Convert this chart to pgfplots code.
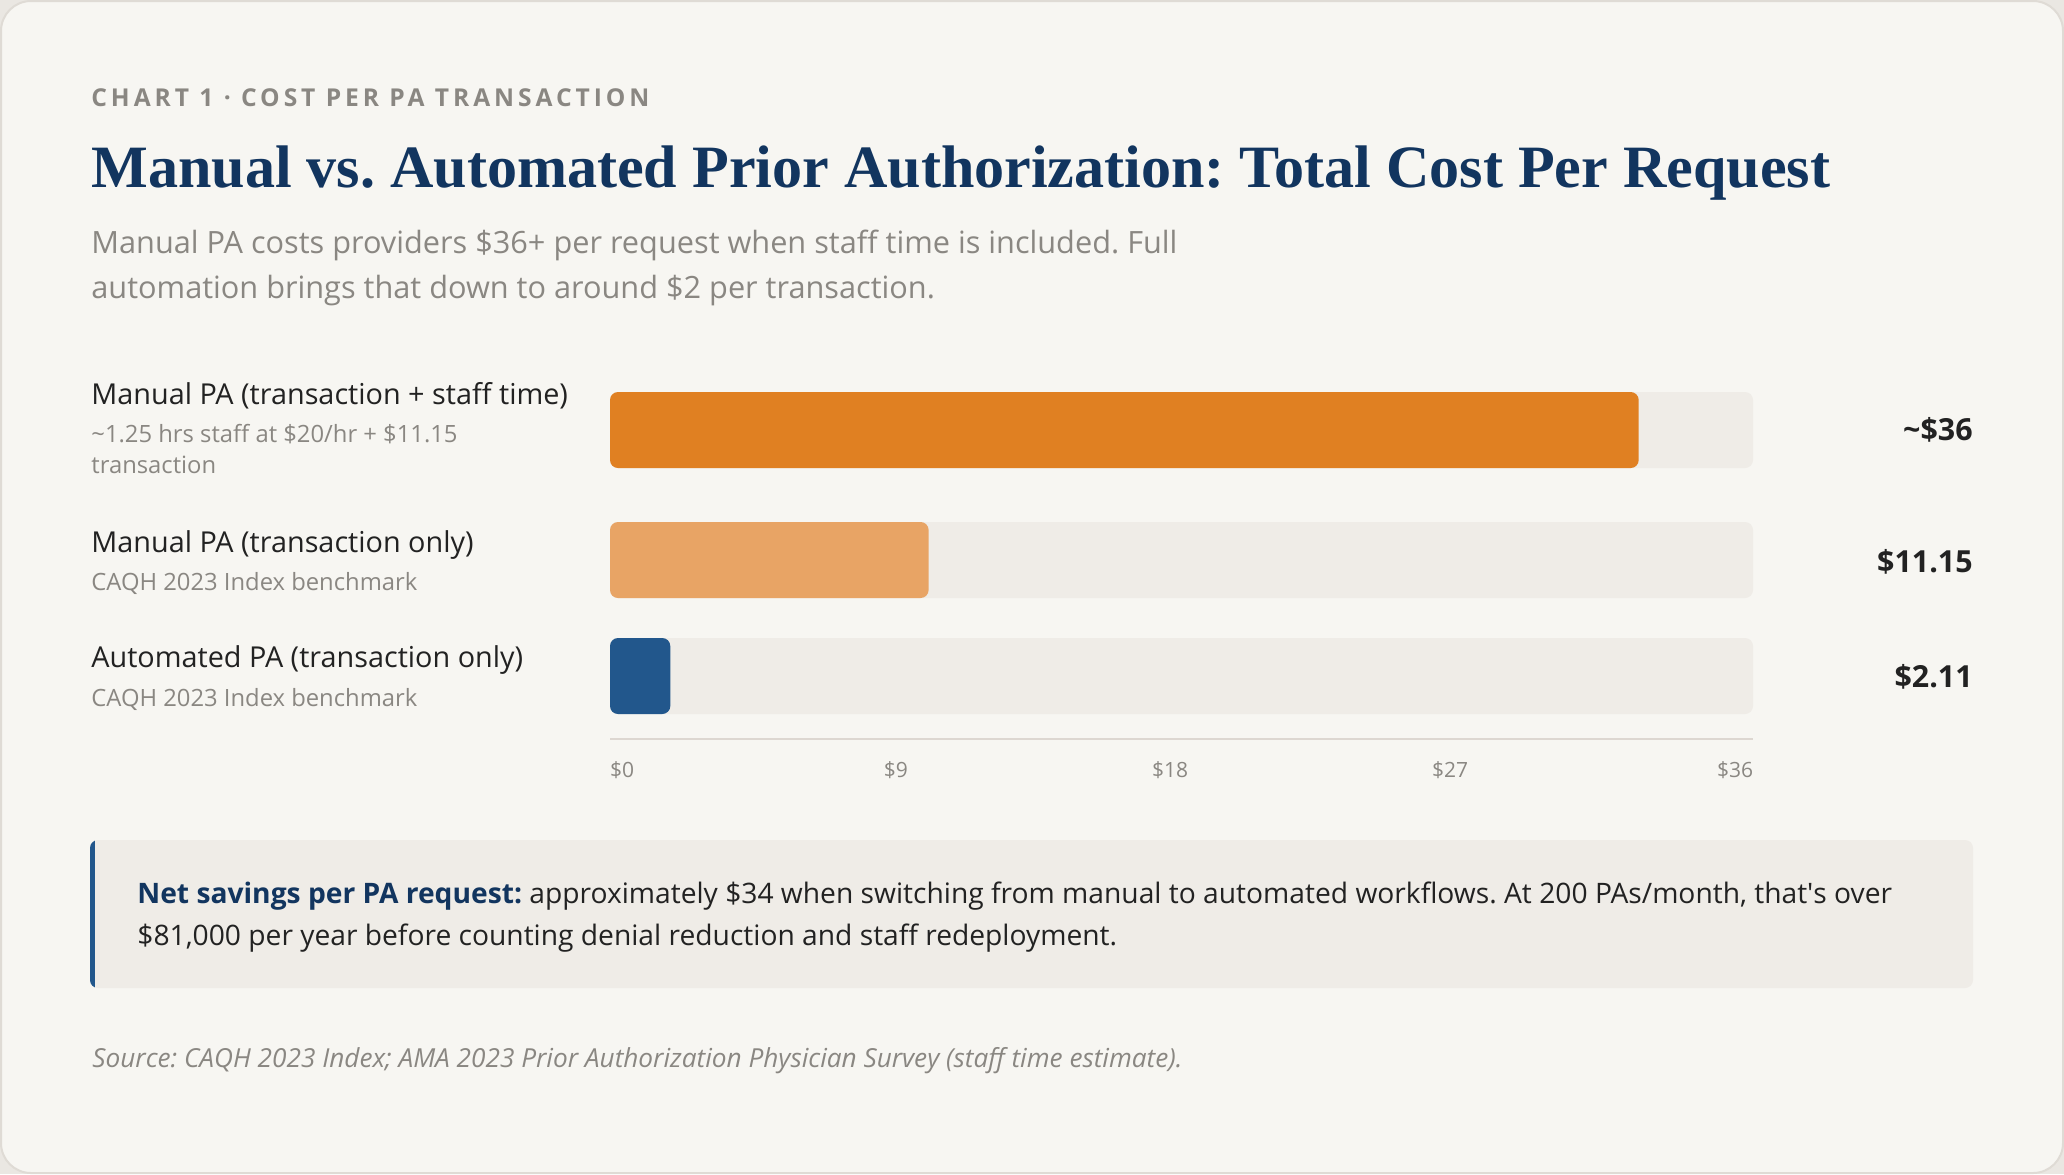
\documentclass[border=0pt]{standalone}
\usepackage{fontspec}
\usepackage{pgfplots}
\pgfplotsset{compat=1.18}
\setmainfont{Open Sans}
\newfontfamily\titlefont{Liberation Serif}
\newfontfamily\kickerfont[LetterSpace=16]{Open Sans}
\frenchspacing

\definecolor{outerbg}{HTML}{EAE7E2}
\definecolor{cardbg}{HTML}{F7F6F2}
\definecolor{cardline}{HTML}{DFDBD5}
\definecolor{track}{HTML}{EFECE7}
\definecolor{orangeA}{HTML}{E08022}
\definecolor{orangeB}{HTML}{E8A465}
\definecolor{blueA}{HTML}{22578C}
\definecolor{navy}{HTML}{12355F}
\definecolor{inkgray}{HTML}{8A8782}
\definecolor{ink}{HTML}{222222}
\definecolor{rule}{HTML}{DDD7D1}

\newcommand\fs[1]{\fontsize{#1}{#1}\selectfont}

\begin{document}
\begin{tikzpicture}
% page frame and card, in pixel units
\begin{scope}[x=0.5pt,y=-0.5pt]
  \useasboundingbox (0,0) rectangle (2064,1174);
  \fill[outerbg] (0,0) rectangle (2064,1174);
  \filldraw[fill=cardbg, draw=cardline, line width=1pt, rounded corners=15pt]
    (1,1) rectangle (2063,1173);

  % header
  \node[anchor=base west, inner sep=0, text=inkgray] at (91,106)
    {\kickerfont\bfseries\fs{12.3}CHART 1 · COST PER PA TRANSACTION};
  \node[anchor=base west, inner sep=0, text=navy] at (91,187)
    {\titlefont\bfseries\fs{30.05}Manual vs. Automated Prior Authorization: Total Cost Per Request};
  \node[anchor=base west, inner sep=0, text=inkgray] at (91,253)
    {\fs{15.35}Manual PA costs providers \$36+ per request when staff time is included. Full};
  \node[anchor=base west, inner sep=0, text=inkgray] at (91,298)
    {\fs{15.35}automation brings that down to around \$2 per transaction.};

  % row labels
  \node[anchor=base west, inner sep=0, text=ink] at (91,404)
    {\fs{14.4}Manual PA (transaction + staff time)};
  \node[anchor=base west, inner sep=0, text=inkgray] at (91,442)
    {\fs{11.9}\textasciitilde1.25 hrs staff at \$20/hr + \$11.15};
  \node[anchor=base west, inner sep=0, text=inkgray] at (91,473)
    {\fs{11.9}transaction};
  \node[anchor=base west, inner sep=0, text=ink] at (91,552)
    {\fs{14.4}Manual PA (transaction only)};
  \node[anchor=base west, inner sep=0, text=inkgray] at (91,590)
    {\fs{11.9}CAQH 2023 Index benchmark};
  \node[anchor=base west, inner sep=0, text=ink] at (91,667)
    {\fs{14.4}Automated PA (transaction only)};
  \node[anchor=base west, inner sep=0, text=inkgray] at (91,706)
    {\fs{11.9}CAQH 2023 Index benchmark};

  % value column
  \node[anchor=base east, inner sep=0, text=ink] at (1973,440) {\bfseries\fs{15.2}\textasciitilde\$36};
  \node[anchor=base east, inner sep=0, text=ink] at (1973,572) {\bfseries\fs{15.2}\$11.15};
  \node[anchor=base east, inner sep=0, text=ink] at (1973,687) {\bfseries\fs{15.2}\$2.11};

  % callout
  \fill[track, rounded corners=4pt] (90,840) rectangle (1973,988);
  \begin{scope}
    \clip[rounded corners=4pt] (90,840) rectangle (1973,988);
    \fill[blueA] (90,840) rectangle (95,988);
  \end{scope}
  \node[anchor=base west, inner sep=0, text=ink] at (137,903)
    {\fs{14.1}{\bfseries\color{navy}Net savings per PA request:} approximately \$34 when switching from manual to automated workflows. At 200 PAs/month, that\textquotesingle s over};
  \node[anchor=base west, inner sep=0, text=ink] at (137,945)
    {\fs{14.1}\$81,000 per year before counting denial reduction and staff redeployment.};

  % source
  \node[anchor=base west, inner sep=0, text=inkgray] at (92,1067)
    {\itshape\fs{13.1}Source: CAQH 2023 Index; AMA 2023 Prior Authorization Physician Survey (staff time estimate).};
\end{scope}

\begin{axis}[
  at={(305pt,-369.5pt)}, anchor=south west,
  scale only axis, width=571.5pt, height=179.5pt,
  xmin=0, xmax=40, ymin=-739, ymax=-380,
  axis y line=none, axis x line*=bottom,
  x axis line style={draw=rule, line width=1pt, -},
  xtick={0,10,19.6,29.4,40},
  xticklabels={\rlap{\$0},\$9,\$18,\$27,\llap{\$36}},
  major tick length=0pt,
  xticklabel style={anchor=base, yshift=-19pt, inner sep=0pt,
    font=\fontsize{10.5}{12}\selectfont, text=inkgray},
  xbar, bar width=38pt, bar shift=0pt,
  clip=false,
]
  % full-scale tracks
  \addplot[fill=track, draw=none, rounded corners=4pt]
    coordinates {(40,-430) (40,-560) (40,-676)};
  % cost per request
  \addplot[fill=orangeA, draw=none, rounded corners=4pt] coordinates {(36,-430)};
  \addplot[fill=orangeB, draw=none, rounded corners=4pt] coordinates {(11.15,-560)};
  \addplot[fill=blueA, draw=none, rounded corners=4pt] coordinates {(2.11,-676)};
\end{axis}
\end{tikzpicture}
\end{document}
